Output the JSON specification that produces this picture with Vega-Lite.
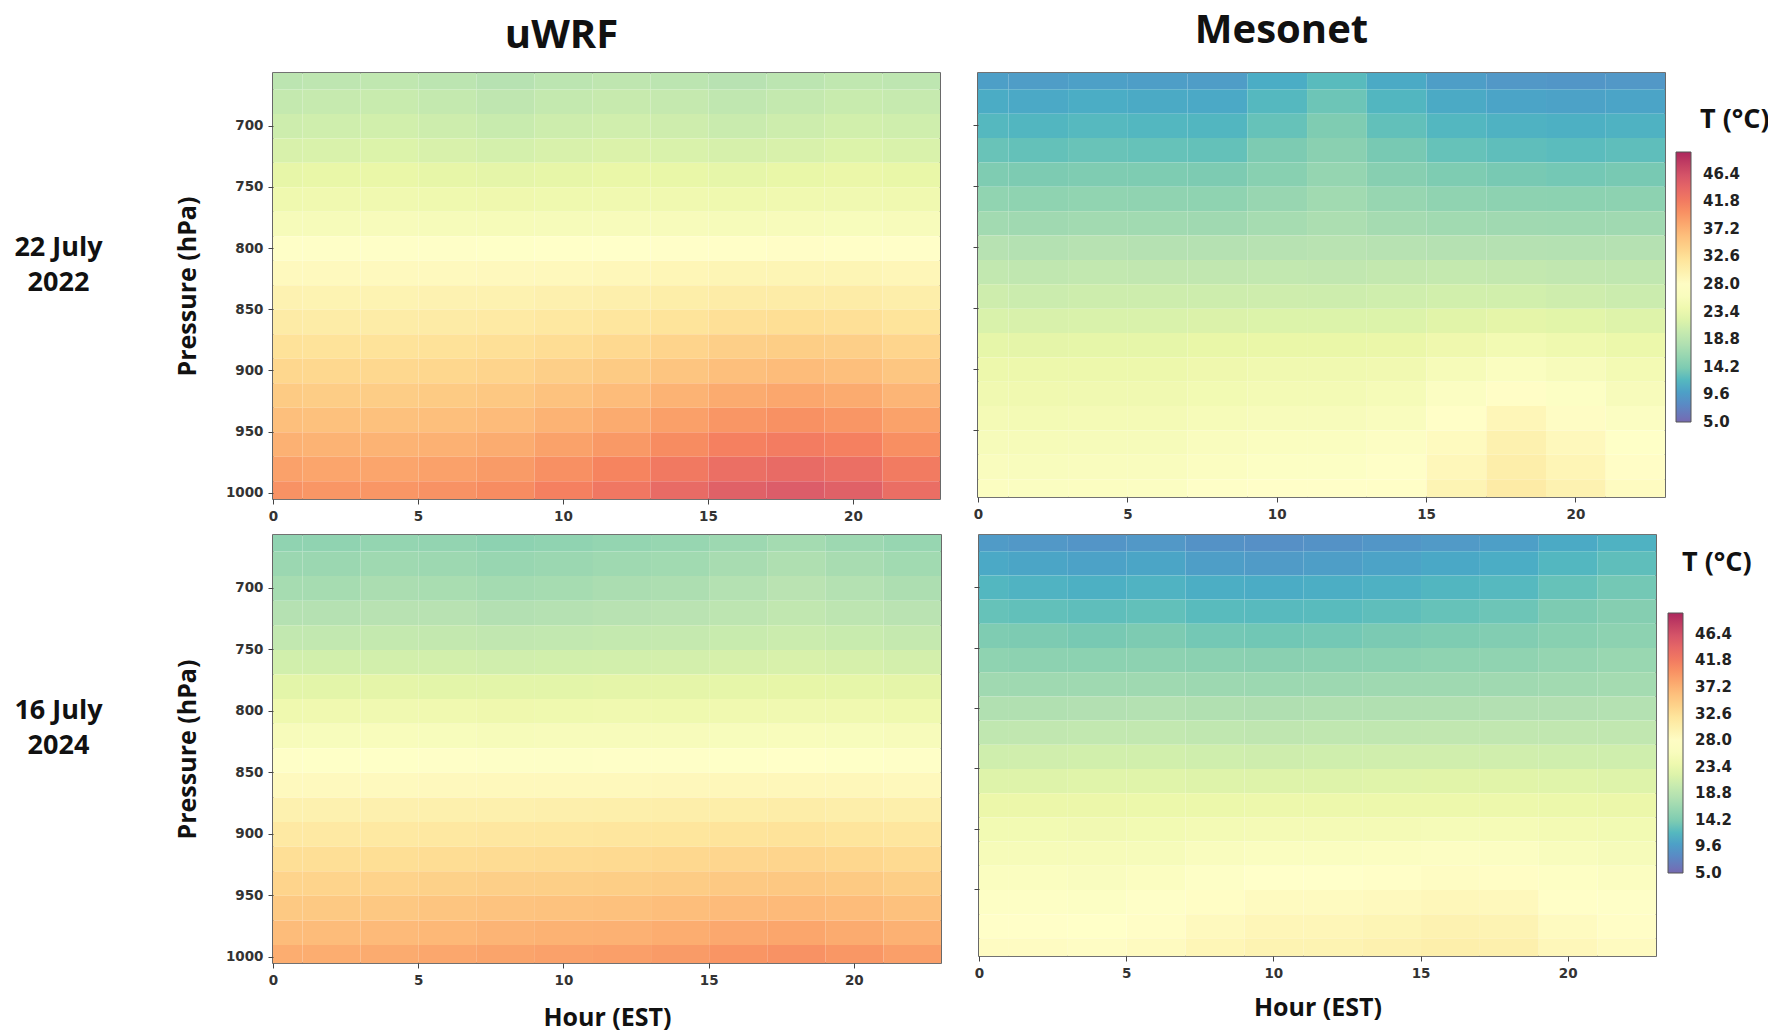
{
"$schema": "https://vega.github.io/schema/vega-lite/v6.json",
"background": "white",
"padding": {"left": 14, "top": 10, "right": 2, "bottom": 0},
"config": {
 "view": {"stroke": "#444", "strokeWidth": 1.6},
 "font": "Open Sans",
 "axis": {"labelFont": "DejaVu Sans", "labelFontWeight": "bold", "labelFontSize": 13.5, "labelColor": "#333", "tickSize": 5, "tickColor": "#444", "domain": false, "grid": false, "titleFont": "Open Sans", "titleFontSize": 25, "titleFontWeight": "bold", "titleColor": "#111", "labelFlush": false, "labelOverlap": false, "labelPadding": 5},
 "title": {"font": "Open Sans", "fontWeight": "bold", "color": "#111"},
 "legend": {"labelFont": "DejaVu Sans", "labelFontWeight": "bold", "labelFontSize": 15, "labelColor": "#222", "titleFont": "Open Sans", "titleFontWeight": "bold", "titleFontSize": 27, "titleColor": "#111"}
},
"datasets": {
"a": [
{"h":0,"p":660,"t":19.0},{"h":2,"p":660,"t":19.2},{"h":4,"p":660,"t":19.4},{"h":6,"p":660,"t":19.0},{"h":8,"p":660,"t":18.4},{"h":10,"p":660,"t":19.0},{"h":12,"p":660,"t":19.3},{"h":14,"p":660,"t":19.0},{"h":16,"p":660,"t":18.5},{"h":18,"p":660,"t":19.0},{"h":20,"p":660,"t":19.4},{"h":22,"p":660,"t":19.2},
{"h":0,"p":680,"t":19.8},{"h":2,"p":680,"t":20.0},{"h":4,"p":680,"t":20.2},{"h":6,"p":680,"t":19.8},{"h":8,"p":680,"t":19.3},{"h":10,"p":680,"t":19.8},{"h":12,"p":680,"t":20.1},{"h":14,"p":680,"t":19.9},{"h":16,"p":680,"t":19.4},{"h":18,"p":680,"t":19.8},{"h":20,"p":680,"t":20.2},{"h":22,"p":680,"t":20.0},
{"h":0,"p":700,"t":20.6},{"h":2,"p":700,"t":20.8},{"h":4,"p":700,"t":21.0},{"h":6,"p":700,"t":20.6},{"h":8,"p":700,"t":20.2},{"h":10,"p":700,"t":20.6},{"h":12,"p":700,"t":20.9},{"h":14,"p":700,"t":20.7},{"h":16,"p":700,"t":20.3},{"h":18,"p":700,"t":20.6},{"h":20,"p":700,"t":21.0},{"h":22,"p":700,"t":20.8},
{"h":0,"p":720,"t":21.6},{"h":2,"p":720,"t":21.7},{"h":4,"p":720,"t":21.9},{"h":6,"p":720,"t":21.6},{"h":8,"p":720,"t":21.3},{"h":10,"p":720,"t":21.6},{"h":12,"p":720,"t":21.8},{"h":14,"p":720,"t":21.7},{"h":16,"p":720,"t":21.4},{"h":18,"p":720,"t":21.6},{"h":20,"p":720,"t":21.9},{"h":22,"p":720,"t":21.7},
{"h":0,"p":740,"t":22.8},{"h":2,"p":740,"t":22.9},{"h":4,"p":740,"t":23.0},{"h":6,"p":740,"t":22.8},{"h":8,"p":740,"t":22.6},{"h":10,"p":740,"t":22.8},{"h":12,"p":740,"t":23.0},{"h":14,"p":740,"t":22.9},{"h":16,"p":740,"t":22.7},{"h":18,"p":740,"t":22.9},{"h":20,"p":740,"t":23.1},{"h":22,"p":740,"t":22.9},
{"h":0,"p":760,"t":24.0},{"h":2,"p":760,"t":24.1},{"h":4,"p":760,"t":24.1},{"h":6,"p":760,"t":24.0},{"h":8,"p":760,"t":23.9},{"h":10,"p":760,"t":24.0},{"h":12,"p":760,"t":24.1},{"h":14,"p":760,"t":24.1},{"h":16,"p":760,"t":24.0},{"h":18,"p":760,"t":24.1},{"h":20,"p":760,"t":24.2},{"h":22,"p":760,"t":24.1},
{"h":0,"p":780,"t":25.5},{"h":2,"p":780,"t":25.5},{"h":4,"p":780,"t":25.6},{"h":6,"p":780,"t":25.5},{"h":8,"p":780,"t":25.4},{"h":10,"p":780,"t":25.5},{"h":12,"p":780,"t":25.6},{"h":14,"p":780,"t":25.6},{"h":16,"p":780,"t":25.5},{"h":18,"p":780,"t":25.6},{"h":20,"p":780,"t":25.7},{"h":22,"p":780,"t":25.6},
{"h":0,"p":800,"t":27.2},{"h":2,"p":800,"t":27.2},{"h":4,"p":800,"t":27.2},{"h":6,"p":800,"t":27.2},{"h":8,"p":800,"t":27.3},{"h":10,"p":800,"t":27.4},{"h":12,"p":800,"t":27.5},{"h":14,"p":800,"t":27.6},{"h":16,"p":800,"t":27.7},{"h":18,"p":800,"t":27.8},{"h":20,"p":800,"t":27.7},{"h":22,"p":800,"t":27.6},
{"h":0,"p":820,"t":28.6},{"h":2,"p":820,"t":28.6},{"h":4,"p":820,"t":28.6},{"h":6,"p":820,"t":28.6},{"h":8,"p":820,"t":28.7},{"h":10,"p":820,"t":28.8},{"h":12,"p":820,"t":29.0},{"h":14,"p":820,"t":29.2},{"h":16,"p":820,"t":29.4},{"h":18,"p":820,"t":29.4},{"h":20,"p":820,"t":29.4},{"h":22,"p":820,"t":29.1},
{"h":0,"p":840,"t":29.8},{"h":2,"p":840,"t":29.7},{"h":4,"p":840,"t":29.7},{"h":6,"p":840,"t":29.8},{"h":8,"p":840,"t":29.9},{"h":10,"p":840,"t":30.1},{"h":12,"p":840,"t":30.3},{"h":14,"p":840,"t":30.6},{"h":16,"p":840,"t":30.8},{"h":18,"p":840,"t":30.9},{"h":20,"p":840,"t":30.8},{"h":22,"p":840,"t":30.5},
{"h":0,"p":860,"t":31.0},{"h":2,"p":860,"t":30.9},{"h":4,"p":860,"t":30.9},{"h":6,"p":860,"t":31.0},{"h":8,"p":860,"t":31.2},{"h":10,"p":860,"t":31.5},{"h":12,"p":860,"t":31.8},{"h":14,"p":860,"t":32.1},{"h":16,"p":860,"t":32.5},{"h":18,"p":860,"t":32.7},{"h":20,"p":860,"t":32.5},{"h":22,"p":860,"t":32.1},
{"h":0,"p":880,"t":32.3},{"h":2,"p":880,"t":32.2},{"h":4,"p":880,"t":32.2},{"h":6,"p":880,"t":32.3},{"h":8,"p":880,"t":32.5},{"h":10,"p":880,"t":32.9},{"h":12,"p":880,"t":33.3},{"h":14,"p":880,"t":33.8},{"h":16,"p":880,"t":34.3},{"h":18,"p":880,"t":34.5},{"h":20,"p":880,"t":34.3},{"h":22,"p":880,"t":33.7},
{"h":0,"p":900,"t":33.5},{"h":2,"p":900,"t":33.4},{"h":4,"p":900,"t":33.4},{"h":6,"p":900,"t":33.5},{"h":8,"p":900,"t":33.8},{"h":10,"p":900,"t":34.3},{"h":12,"p":900,"t":34.8},{"h":14,"p":900,"t":35.4},{"h":16,"p":900,"t":36.0},{"h":18,"p":900,"t":36.3},{"h":20,"p":900,"t":36.0},{"h":22,"p":900,"t":35.3},
{"h":0,"p":920,"t":34.8},{"h":2,"p":920,"t":34.6},{"h":4,"p":920,"t":34.6},{"h":6,"p":920,"t":34.8},{"h":8,"p":920,"t":35.1},{"h":10,"p":920,"t":35.7},{"h":12,"p":920,"t":36.3},{"h":14,"p":920,"t":37.1},{"h":16,"p":920,"t":37.8},{"h":18,"p":920,"t":38.1},{"h":20,"p":920,"t":37.8},{"h":22,"p":920,"t":36.9},
{"h":0,"p":940,"t":36.0},{"h":2,"p":940,"t":35.8},{"h":4,"p":940,"t":35.8},{"h":6,"p":940,"t":36.0},{"h":8,"p":940,"t":36.4},{"h":10,"p":940,"t":37.1},{"h":12,"p":940,"t":37.8},{"h":14,"p":940,"t":38.7},{"h":16,"p":940,"t":39.5},{"h":18,"p":940,"t":39.9},{"h":20,"p":940,"t":39.5},{"h":22,"p":940,"t":38.5},
{"h":0,"p":960,"t":37.3},{"h":2,"p":960,"t":37.1},{"h":4,"p":960,"t":37.1},{"h":6,"p":960,"t":37.3},{"h":8,"p":960,"t":37.7},{"h":10,"p":960,"t":38.5},{"h":12,"p":960,"t":39.3},{"h":14,"p":960,"t":40.3},{"h":16,"p":960,"t":41.3},{"h":18,"p":960,"t":41.7},{"h":20,"p":960,"t":41.3},{"h":22,"p":960,"t":40.1},
{"h":0,"p":980,"t":38.6},{"h":2,"p":980,"t":38.3},{"h":4,"p":980,"t":38.3},{"h":6,"p":980,"t":38.6},{"h":8,"p":980,"t":39.1},{"h":10,"p":980,"t":40.0},{"h":12,"p":980,"t":40.9},{"h":14,"p":980,"t":42.0},{"h":16,"p":980,"t":43.1},{"h":18,"p":980,"t":43.6},{"h":20,"p":980,"t":43.1},{"h":22,"p":980,"t":41.8},
{"h":0,"p":1000,"t":39.8},{"h":2,"p":1000,"t":39.5},{"h":4,"p":1000,"t":39.5},{"h":6,"p":1000,"t":39.8},{"h":8,"p":1000,"t":40.3},{"h":10,"p":1000,"t":41.3},{"h":12,"p":1000,"t":42.3},{"h":14,"p":1000,"t":43.6},{"h":16,"p":1000,"t":44.8},{"h":18,"p":1000,"t":45.3},{"h":20,"p":1000,"t":44.8},{"h":22,"p":1000,"t":43.3}
],
"b": [
{"h":0,"p":660,"t":9.9},{"h":2,"p":660,"t":9.7},{"h":4,"p":660,"t":10.0},{"h":6,"p":660,"t":9.8},{"h":8,"p":660,"t":9.7},{"h":10,"p":660,"t":11.0},{"h":12,"p":660,"t":12.3},{"h":14,"p":660,"t":10.8},{"h":16,"p":660,"t":9.8},{"h":18,"p":660,"t":9.3},{"h":20,"p":660,"t":9.1},{"h":22,"p":660,"t":9.3},
{"h":0,"p":680,"t":10.9},{"h":2,"p":680,"t":10.7},{"h":4,"p":680,"t":11.0},{"h":6,"p":680,"t":10.8},{"h":8,"p":680,"t":10.7},{"h":10,"p":680,"t":12.0},{"h":12,"p":680,"t":13.3},{"h":14,"p":680,"t":11.8},{"h":16,"p":680,"t":10.8},{"h":18,"p":680,"t":10.3},{"h":20,"p":680,"t":10.1},{"h":22,"p":680,"t":10.3},
{"h":0,"p":700,"t":12.0},{"h":2,"p":700,"t":11.8},{"h":4,"p":700,"t":12.1},{"h":6,"p":700,"t":11.9},{"h":8,"p":700,"t":11.8},{"h":10,"p":700,"t":13.0},{"h":12,"p":700,"t":14.2},{"h":14,"p":700,"t":12.8},{"h":16,"p":700,"t":11.9},{"h":18,"p":700,"t":11.5},{"h":20,"p":700,"t":11.3},{"h":22,"p":700,"t":11.5},
{"h":0,"p":720,"t":13.1},{"h":2,"p":720,"t":12.9},{"h":4,"p":720,"t":13.1},{"h":6,"p":720,"t":13.0},{"h":8,"p":720,"t":12.9},{"h":10,"p":720,"t":14.0},{"h":12,"p":720,"t":15.0},{"h":14,"p":720,"t":13.8},{"h":16,"p":720,"t":13.0},{"h":18,"p":720,"t":12.6},{"h":20,"p":720,"t":12.4},{"h":22,"p":720,"t":12.6},
{"h":0,"p":740,"t":14.2},{"h":2,"p":740,"t":14.0},{"h":4,"p":740,"t":14.2},{"h":6,"p":740,"t":14.1},{"h":8,"p":740,"t":14.0},{"h":10,"p":740,"t":14.9},{"h":12,"p":740,"t":15.9},{"h":14,"p":740,"t":14.8},{"h":16,"p":740,"t":14.1},{"h":18,"p":740,"t":13.8},{"h":20,"p":740,"t":13.6},{"h":22,"p":740,"t":13.8},
{"h":0,"p":760,"t":15.6},{"h":2,"p":760,"t":15.4},{"h":4,"p":760,"t":15.6},{"h":6,"p":760,"t":15.5},{"h":8,"p":760,"t":15.4},{"h":10,"p":760,"t":16.1},{"h":12,"p":760,"t":16.8},{"h":14,"p":760,"t":16.0},{"h":16,"p":760,"t":15.5},{"h":18,"p":760,"t":15.3},{"h":20,"p":760,"t":15.2},{"h":22,"p":760,"t":15.3},
{"h":0,"p":780,"t":16.9},{"h":2,"p":780,"t":16.7},{"h":4,"p":780,"t":16.9},{"h":6,"p":780,"t":16.8},{"h":8,"p":780,"t":16.7},{"h":10,"p":780,"t":17.2},{"h":12,"p":780,"t":17.6},{"h":14,"p":780,"t":17.1},{"h":16,"p":780,"t":16.8},{"h":18,"p":780,"t":16.7},{"h":20,"p":780,"t":16.6},{"h":22,"p":780,"t":16.7},
{"h":0,"p":800,"t":18.4},{"h":2,"p":800,"t":18.2},{"h":4,"p":800,"t":18.4},{"h":6,"p":800,"t":18.3},{"h":8,"p":800,"t":18.3},{"h":10,"p":800,"t":18.4},{"h":12,"p":800,"t":18.6},{"h":14,"p":800,"t":18.4},{"h":16,"p":800,"t":18.3},{"h":18,"p":800,"t":18.3},{"h":20,"p":800,"t":18.2},{"h":22,"p":800,"t":18.3},
{"h":0,"p":820,"t":19.6},{"h":2,"p":820,"t":19.4},{"h":4,"p":820,"t":19.6},{"h":6,"p":820,"t":19.5},{"h":8,"p":820,"t":19.5},{"h":10,"p":820,"t":19.6},{"h":12,"p":820,"t":19.5},{"h":14,"p":820,"t":19.7},{"h":16,"p":820,"t":19.8},{"h":18,"p":820,"t":19.7},{"h":20,"p":820,"t":19.5},{"h":22,"p":820,"t":19.4},
{"h":0,"p":840,"t":20.7},{"h":2,"p":840,"t":20.5},{"h":4,"p":840,"t":20.6},{"h":6,"p":840,"t":20.6},{"h":8,"p":840,"t":20.6},{"h":10,"p":840,"t":20.7},{"h":12,"p":840,"t":20.6},{"h":14,"p":840,"t":20.8},{"h":16,"p":840,"t":21.0},{"h":18,"p":840,"t":21.0},{"h":20,"p":840,"t":20.7},{"h":22,"p":840,"t":20.5},
{"h":0,"p":860,"t":21.7},{"h":2,"p":860,"t":21.6},{"h":4,"p":860,"t":21.7},{"h":6,"p":860,"t":21.7},{"h":8,"p":860,"t":21.8},{"h":10,"p":860,"t":21.9},{"h":12,"p":860,"t":21.9},{"h":14,"p":860,"t":21.9},{"h":16,"p":860,"t":22.3},{"h":18,"p":860,"t":22.6},{"h":20,"p":860,"t":22.4},{"h":22,"p":860,"t":22.1},
{"h":0,"p":880,"t":22.7},{"h":2,"p":880,"t":22.6},{"h":4,"p":880,"t":22.7},{"h":6,"p":880,"t":22.7},{"h":8,"p":880,"t":22.9},{"h":10,"p":880,"t":23.0},{"h":12,"p":880,"t":23.0},{"h":14,"p":880,"t":23.2},{"h":16,"p":880,"t":23.9},{"h":18,"p":880,"t":24.5},{"h":20,"p":880,"t":24.0},{"h":22,"p":880,"t":23.4},
{"h":0,"p":900,"t":23.6},{"h":2,"p":900,"t":23.5},{"h":4,"p":900,"t":23.6},{"h":6,"p":900,"t":23.6},{"h":8,"p":900,"t":23.9},{"h":10,"p":900,"t":24.1},{"h":12,"p":900,"t":24.1},{"h":14,"p":900,"t":24.3},{"h":16,"p":900,"t":25.4},{"h":18,"p":900,"t":26.3},{"h":20,"p":900,"t":25.6},{"h":22,"p":900,"t":24.7},
{"h":0,"p":920,"t":24.2},{"h":2,"p":920,"t":24.1},{"h":4,"p":920,"t":24.2},{"h":6,"p":920,"t":24.2},{"h":8,"p":920,"t":24.6},{"h":10,"p":920,"t":24.8},{"h":12,"p":920,"t":24.8},{"h":14,"p":920,"t":25.2},{"h":16,"p":920,"t":26.6},{"h":18,"p":920,"t":27.8},{"h":20,"p":920,"t":26.8},{"h":22,"p":920,"t":25.6},
{"h":0,"p":940,"t":24.9},{"h":2,"p":940,"t":24.8},{"h":4,"p":940,"t":24.9},{"h":6,"p":940,"t":24.9},{"h":8,"p":940,"t":25.3},{"h":10,"p":940,"t":25.6},{"h":12,"p":940,"t":25.6},{"h":14,"p":940,"t":26.0},{"h":16,"p":940,"t":27.7},{"h":18,"p":940,"t":29.1},{"h":20,"p":940,"t":28.0},{"h":22,"p":940,"t":26.6},
{"h":0,"p":960,"t":25.5},{"h":2,"p":960,"t":25.4},{"h":4,"p":960,"t":25.5},{"h":6,"p":960,"t":25.5},{"h":8,"p":960,"t":26.0},{"h":10,"p":960,"t":26.3},{"h":12,"p":960,"t":26.3},{"h":14,"p":960,"t":26.7},{"h":16,"p":960,"t":28.5},{"h":18,"p":960,"t":30.0},{"h":20,"p":960,"t":28.8},{"h":22,"p":960,"t":27.3},
{"h":0,"p":980,"t":26.0},{"h":2,"p":980,"t":25.9},{"h":4,"p":980,"t":26.0},{"h":6,"p":980,"t":26.0},{"h":8,"p":980,"t":26.5},{"h":10,"p":980,"t":26.8},{"h":12,"p":980,"t":26.8},{"h":14,"p":980,"t":27.2},{"h":16,"p":980,"t":29.0},{"h":18,"p":980,"t":30.5},{"h":20,"p":980,"t":29.3},{"h":22,"p":980,"t":27.8},
{"h":0,"p":1000,"t":26.5},{"h":2,"p":1000,"t":26.4},{"h":4,"p":1000,"t":26.5},{"h":6,"p":1000,"t":26.6},{"h":8,"p":1000,"t":27.2},{"h":10,"p":1000,"t":27.6},{"h":12,"p":1000,"t":27.6},{"h":14,"p":1000,"t":27.7},{"h":16,"p":1000,"t":29.5},{"h":18,"p":1000,"t":31.0},{"h":20,"p":1000,"t":29.8},{"h":22,"p":1000,"t":28.3}
],
"c": [
{"h":0,"p":660,"t":15.5},{"h":2,"p":660,"t":15.5},{"h":4,"p":660,"t":15.8},{"h":6,"p":660,"t":15.7},{"h":8,"p":660,"t":15.3},{"h":10,"p":660,"t":15.5},{"h":12,"p":660,"t":15.8},{"h":14,"p":660,"t":16.0},{"h":16,"p":660,"t":16.5},{"h":18,"p":660,"t":17.0},{"h":20,"p":660,"t":16.5},{"h":22,"p":660,"t":16.0},
{"h":0,"p":680,"t":16.3},{"h":2,"p":680,"t":16.3},{"h":4,"p":680,"t":16.6},{"h":6,"p":680,"t":16.5},{"h":8,"p":680,"t":16.1},{"h":10,"p":680,"t":16.3},{"h":12,"p":680,"t":16.6},{"h":14,"p":680,"t":16.8},{"h":16,"p":680,"t":17.3},{"h":18,"p":680,"t":17.8},{"h":20,"p":680,"t":17.3},{"h":22,"p":680,"t":16.8},
{"h":0,"p":700,"t":17.2},{"h":2,"p":700,"t":17.2},{"h":4,"p":700,"t":17.5},{"h":6,"p":700,"t":17.4},{"h":8,"p":700,"t":17.0},{"h":10,"p":700,"t":17.2},{"h":12,"p":700,"t":17.5},{"h":14,"p":700,"t":17.7},{"h":16,"p":700,"t":18.2},{"h":18,"p":700,"t":18.7},{"h":20,"p":700,"t":18.2},{"h":22,"p":700,"t":17.7},
{"h":0,"p":720,"t":18.3},{"h":2,"p":720,"t":18.3},{"h":4,"p":720,"t":18.5},{"h":6,"p":720,"t":18.5},{"h":8,"p":720,"t":18.1},{"h":10,"p":720,"t":18.3},{"h":12,"p":720,"t":18.5},{"h":14,"p":720,"t":18.7},{"h":16,"p":720,"t":19.1},{"h":18,"p":720,"t":19.5},{"h":20,"p":720,"t":19.1},{"h":22,"p":720,"t":18.7},
{"h":0,"p":740,"t":19.6},{"h":2,"p":740,"t":19.6},{"h":4,"p":740,"t":19.8},{"h":6,"p":740,"t":19.7},{"h":8,"p":740,"t":19.5},{"h":10,"p":740,"t":19.6},{"h":12,"p":740,"t":19.8},{"h":14,"p":740,"t":19.9},{"h":16,"p":740,"t":20.2},{"h":18,"p":740,"t":20.5},{"h":20,"p":740,"t":20.2},{"h":22,"p":740,"t":19.9},
{"h":0,"p":760,"t":21.0},{"h":2,"p":760,"t":21.0},{"h":4,"p":760,"t":21.1},{"h":6,"p":760,"t":21.1},{"h":8,"p":760,"t":20.9},{"h":10,"p":760,"t":21.0},{"h":12,"p":760,"t":21.1},{"h":14,"p":760,"t":21.2},{"h":16,"p":760,"t":21.4},{"h":18,"p":760,"t":21.6},{"h":20,"p":760,"t":21.4},{"h":22,"p":760,"t":21.2},
{"h":0,"p":780,"t":22.5},{"h":2,"p":780,"t":22.5},{"h":4,"p":780,"t":22.6},{"h":6,"p":780,"t":22.5},{"h":8,"p":780,"t":22.5},{"h":10,"p":780,"t":22.5},{"h":12,"p":780,"t":22.6},{"h":14,"p":780,"t":22.6},{"h":16,"p":780,"t":22.7},{"h":18,"p":780,"t":22.8},{"h":20,"p":780,"t":22.7},{"h":22,"p":780,"t":22.6},
{"h":0,"p":800,"t":24.0},{"h":2,"p":800,"t":24.1},{"h":4,"p":800,"t":24.2},{"h":6,"p":800,"t":24.1},{"h":8,"p":800,"t":23.9},{"h":10,"p":800,"t":24.0},{"h":12,"p":800,"t":24.1},{"h":14,"p":800,"t":24.0},{"h":16,"p":800,"t":24.1},{"h":18,"p":800,"t":24.2},{"h":20,"p":800,"t":24.1},{"h":22,"p":800,"t":24.0},
{"h":0,"p":820,"t":25.6},{"h":2,"p":820,"t":25.7},{"h":4,"p":820,"t":25.8},{"h":6,"p":820,"t":25.7},{"h":8,"p":820,"t":25.5},{"h":10,"p":820,"t":25.6},{"h":12,"p":820,"t":25.6},{"h":14,"p":820,"t":25.6},{"h":16,"p":820,"t":25.7},{"h":18,"p":820,"t":25.8},{"h":20,"p":820,"t":25.7},{"h":22,"p":820,"t":25.6},
{"h":0,"p":840,"t":27.2},{"h":2,"p":840,"t":27.3},{"h":4,"p":840,"t":27.3},{"h":6,"p":840,"t":27.2},{"h":8,"p":840,"t":27.1},{"h":10,"p":840,"t":27.1},{"h":12,"p":840,"t":27.2},{"h":14,"p":840,"t":27.2},{"h":16,"p":840,"t":27.3},{"h":18,"p":840,"t":27.4},{"h":20,"p":840,"t":27.3},{"h":22,"p":840,"t":27.2},
{"h":0,"p":860,"t":28.6},{"h":2,"p":860,"t":28.6},{"h":4,"p":860,"t":28.6},{"h":6,"p":860,"t":28.7},{"h":8,"p":860,"t":28.8},{"h":10,"p":860,"t":28.8},{"h":12,"p":860,"t":28.8},{"h":14,"p":860,"t":28.9},{"h":16,"p":860,"t":29.0},{"h":18,"p":860,"t":29.0},{"h":20,"p":860,"t":29.0},{"h":22,"p":860,"t":28.8},
{"h":0,"p":880,"t":30.0},{"h":2,"p":880,"t":30.0},{"h":4,"p":880,"t":30.1},{"h":6,"p":880,"t":30.2},{"h":8,"p":880,"t":30.2},{"h":10,"p":880,"t":30.3},{"h":12,"p":880,"t":30.4},{"h":14,"p":880,"t":30.5},{"h":16,"p":880,"t":30.6},{"h":18,"p":880,"t":30.7},{"h":20,"p":880,"t":30.5},{"h":22,"p":880,"t":30.4},
{"h":0,"p":900,"t":31.3},{"h":2,"p":900,"t":31.3},{"h":4,"p":900,"t":31.4},{"h":6,"p":900,"t":31.5},{"h":8,"p":900,"t":31.6},{"h":10,"p":900,"t":31.7},{"h":12,"p":900,"t":31.8},{"h":14,"p":900,"t":31.9},{"h":16,"p":900,"t":32.1},{"h":18,"p":900,"t":32.2},{"h":20,"p":900,"t":32.0},{"h":22,"p":900,"t":31.8},
{"h":0,"p":920,"t":32.6},{"h":2,"p":920,"t":32.6},{"h":4,"p":920,"t":32.7},{"h":6,"p":920,"t":32.9},{"h":8,"p":920,"t":33.0},{"h":10,"p":920,"t":33.1},{"h":12,"p":920,"t":33.2},{"h":14,"p":920,"t":33.4},{"h":16,"p":920,"t":33.6},{"h":18,"p":920,"t":33.7},{"h":20,"p":920,"t":33.5},{"h":22,"p":920,"t":33.2},
{"h":0,"p":940,"t":33.8},{"h":2,"p":940,"t":33.8},{"h":4,"p":940,"t":33.9},{"h":6,"p":940,"t":34.1},{"h":8,"p":940,"t":34.3},{"h":10,"p":940,"t":34.4},{"h":12,"p":940,"t":34.5},{"h":14,"p":940,"t":34.7},{"h":16,"p":940,"t":35.0},{"h":18,"p":940,"t":35.1},{"h":20,"p":940,"t":34.9},{"h":22,"p":940,"t":34.5},
{"h":0,"p":960,"t":35.0},{"h":2,"p":960,"t":35.0},{"h":4,"p":960,"t":35.1},{"h":6,"p":960,"t":35.4},{"h":8,"p":960,"t":35.6},{"h":10,"p":960,"t":35.7},{"h":12,"p":960,"t":35.8},{"h":14,"p":960,"t":36.1},{"h":16,"p":960,"t":36.4},{"h":18,"p":960,"t":36.5},{"h":20,"p":960,"t":36.3},{"h":22,"p":960,"t":35.8},
{"h":0,"p":980,"t":36.3},{"h":2,"p":980,"t":36.3},{"h":4,"p":980,"t":36.5},{"h":6,"p":980,"t":36.7},{"h":8,"p":980,"t":37.0},{"h":10,"p":980,"t":37.2},{"h":12,"p":980,"t":37.3},{"h":14,"p":980,"t":37.6},{"h":16,"p":980,"t":38.0},{"h":18,"p":980,"t":38.2},{"h":20,"p":980,"t":37.8},{"h":22,"p":980,"t":37.3},
{"h":0,"p":1000,"t":37.6},{"h":2,"p":1000,"t":37.6},{"h":4,"p":1000,"t":37.8},{"h":6,"p":1000,"t":38.1},{"h":8,"p":1000,"t":38.4},{"h":10,"p":1000,"t":38.6},{"h":12,"p":1000,"t":38.8},{"h":14,"p":1000,"t":39.1},{"h":16,"p":1000,"t":39.6},{"h":18,"p":1000,"t":39.8},{"h":20,"p":1000,"t":39.4},{"h":22,"p":1000,"t":38.8}
],
"d": [
{"h":0,"p":660,"t":9.6},{"h":2,"p":660,"t":9.3},{"h":4,"p":660,"t":9.0},{"h":6,"p":660,"t":9.3},{"h":8,"p":660,"t":8.7},{"h":10,"p":660,"t":8.5},{"h":12,"p":660,"t":8.7},{"h":14,"p":660,"t":9.1},{"h":16,"p":660,"t":9.5},{"h":18,"p":660,"t":9.9},{"h":20,"p":660,"t":10.8},{"h":22,"p":660,"t":11.5},
{"h":0,"p":680,"t":10.7},{"h":2,"p":680,"t":10.4},{"h":4,"p":680,"t":10.1},{"h":6,"p":680,"t":10.4},{"h":8,"p":680,"t":9.8},{"h":10,"p":680,"t":9.6},{"h":12,"p":680,"t":9.8},{"h":14,"p":680,"t":10.2},{"h":16,"p":680,"t":10.6},{"h":18,"p":680,"t":11.0},{"h":20,"p":680,"t":11.9},{"h":22,"p":680,"t":12.6},
{"h":0,"p":700,"t":11.9},{"h":2,"p":700,"t":11.6},{"h":4,"p":700,"t":11.3},{"h":6,"p":700,"t":11.6},{"h":8,"p":700,"t":11.1},{"h":10,"p":700,"t":10.9},{"h":12,"p":700,"t":11.1},{"h":14,"p":700,"t":11.4},{"h":16,"p":700,"t":11.8},{"h":18,"p":700,"t":12.1},{"h":20,"p":700,"t":13.0},{"h":22,"p":700,"t":13.6},
{"h":0,"p":720,"t":13.0},{"h":2,"p":720,"t":12.8},{"h":4,"p":720,"t":12.6},{"h":6,"p":720,"t":12.8},{"h":8,"p":720,"t":12.3},{"h":10,"p":720,"t":12.2},{"h":12,"p":720,"t":12.3},{"h":14,"p":720,"t":12.6},{"h":16,"p":720,"t":13.0},{"h":18,"p":720,"t":13.3},{"h":20,"p":720,"t":14.0},{"h":22,"p":720,"t":14.6},
{"h":0,"p":740,"t":14.2},{"h":2,"p":740,"t":14.0},{"h":4,"p":740,"t":13.8},{"h":6,"p":740,"t":14.0},{"h":8,"p":740,"t":13.6},{"h":10,"p":740,"t":13.5},{"h":12,"p":740,"t":13.6},{"h":14,"p":740,"t":13.9},{"h":16,"p":740,"t":14.1},{"h":18,"p":740,"t":14.4},{"h":20,"p":740,"t":14.9},{"h":22,"p":740,"t":15.3},
{"h":0,"p":760,"t":15.4},{"h":2,"p":760,"t":15.3},{"h":4,"p":760,"t":15.2},{"h":6,"p":760,"t":15.3},{"h":8,"p":760,"t":15.1},{"h":10,"p":760,"t":15.0},{"h":12,"p":760,"t":15.1},{"h":14,"p":760,"t":15.2},{"h":16,"p":760,"t":15.4},{"h":18,"p":760,"t":15.5},{"h":20,"p":760,"t":15.9},{"h":22,"p":760,"t":16.2},
{"h":0,"p":780,"t":16.7},{"h":2,"p":780,"t":16.6},{"h":4,"p":780,"t":16.6},{"h":6,"p":780,"t":16.6},{"h":8,"p":780,"t":16.5},{"h":10,"p":780,"t":16.4},{"h":12,"p":780,"t":16.5},{"h":14,"p":780,"t":16.6},{"h":16,"p":780,"t":16.6},{"h":18,"p":780,"t":16.7},{"h":20,"p":780,"t":16.9},{"h":22,"p":780,"t":17.0},
{"h":0,"p":800,"t":18.0},{"h":2,"p":800,"t":18.0},{"h":4,"p":800,"t":18.1},{"h":6,"p":800,"t":18.2},{"h":8,"p":800,"t":18.0},{"h":10,"p":800,"t":17.9},{"h":12,"p":800,"t":18.0},{"h":14,"p":800,"t":18.0},{"h":16,"p":800,"t":18.0},{"h":18,"p":800,"t":18.1},{"h":20,"p":800,"t":18.1},{"h":22,"p":800,"t":18.2},
{"h":0,"p":820,"t":19.4},{"h":2,"p":820,"t":19.5},{"h":4,"p":820,"t":19.6},{"h":6,"p":820,"t":19.6},{"h":8,"p":820,"t":19.4},{"h":10,"p":820,"t":19.3},{"h":12,"p":820,"t":19.4},{"h":14,"p":820,"t":19.4},{"h":16,"p":820,"t":19.5},{"h":18,"p":820,"t":19.5},{"h":20,"p":820,"t":19.5},{"h":22,"p":820,"t":19.5},
{"h":0,"p":840,"t":20.8},{"h":2,"p":840,"t":20.9},{"h":4,"p":840,"t":21.0},{"h":6,"p":840,"t":21.0},{"h":8,"p":840,"t":20.8},{"h":10,"p":840,"t":20.7},{"h":12,"p":840,"t":20.8},{"h":14,"p":840,"t":20.9},{"h":16,"p":840,"t":20.9},{"h":18,"p":840,"t":20.9},{"h":20,"p":840,"t":20.8},{"h":22,"p":840,"t":20.8},
{"h":0,"p":860,"t":22.1},{"h":2,"p":860,"t":22.1},{"h":4,"p":860,"t":22.2},{"h":6,"p":860,"t":22.2},{"h":8,"p":860,"t":22.1},{"h":10,"p":860,"t":22.1},{"h":12,"p":860,"t":22.1},{"h":14,"p":860,"t":22.2},{"h":16,"p":860,"t":22.3},{"h":18,"p":860,"t":22.3},{"h":20,"p":860,"t":22.2},{"h":22,"p":860,"t":22.1},
{"h":0,"p":880,"t":23.3},{"h":2,"p":880,"t":23.3},{"h":4,"p":880,"t":23.3},{"h":6,"p":880,"t":23.4},{"h":8,"p":880,"t":23.4},{"h":10,"p":880,"t":23.5},{"h":12,"p":880,"t":23.5},{"h":14,"p":880,"t":23.5},{"h":16,"p":880,"t":23.6},{"h":18,"p":880,"t":23.6},{"h":20,"p":880,"t":23.4},{"h":22,"p":880,"t":23.3},
{"h":0,"p":900,"t":24.5},{"h":2,"p":900,"t":24.5},{"h":4,"p":900,"t":24.4},{"h":6,"p":900,"t":24.6},{"h":8,"p":900,"t":24.8},{"h":10,"p":900,"t":25.0},{"h":12,"p":900,"t":25.0},{"h":14,"p":900,"t":25.0},{"h":16,"p":900,"t":25.2},{"h":18,"p":900,"t":25.1},{"h":20,"p":900,"t":24.7},{"h":22,"p":900,"t":24.6},
{"h":0,"p":920,"t":25.4},{"h":2,"p":920,"t":25.4},{"h":4,"p":920,"t":25.3},{"h":6,"p":920,"t":25.5},{"h":8,"p":920,"t":26.0},{"h":10,"p":920,"t":26.3},{"h":12,"p":920,"t":26.3},{"h":14,"p":920,"t":26.5},{"h":16,"p":920,"t":26.7},{"h":18,"p":920,"t":26.6},{"h":20,"p":920,"t":25.9},{"h":22,"p":920,"t":25.5},
{"h":0,"p":940,"t":26.3},{"h":2,"p":940,"t":26.3},{"h":4,"p":940,"t":26.1},{"h":6,"p":940,"t":26.5},{"h":8,"p":940,"t":27.1},{"h":10,"p":940,"t":27.5},{"h":12,"p":940,"t":27.5},{"h":14,"p":940,"t":27.7},{"h":16,"p":940,"t":28.1},{"h":18,"p":940,"t":27.9},{"h":20,"p":940,"t":26.9},{"h":22,"p":940,"t":26.5},
{"h":0,"p":960,"t":27.0},{"h":2,"p":960,"t":27.0},{"h":4,"p":960,"t":26.8},{"h":6,"p":960,"t":27.2},{"h":8,"p":960,"t":27.9},{"h":10,"p":960,"t":28.4},{"h":12,"p":960,"t":28.4},{"h":14,"p":960,"t":28.6},{"h":16,"p":960,"t":29.0},{"h":18,"p":960,"t":28.8},{"h":20,"p":960,"t":27.7},{"h":22,"p":960,"t":27.2},
{"h":0,"p":980,"t":27.6},{"h":2,"p":980,"t":27.6},{"h":4,"p":980,"t":27.4},{"h":6,"p":980,"t":27.8},{"h":8,"p":980,"t":28.6},{"h":10,"p":980,"t":29.1},{"h":12,"p":980,"t":29.1},{"h":14,"p":980,"t":29.4},{"h":16,"p":980,"t":29.8},{"h":18,"p":980,"t":29.6},{"h":20,"p":980,"t":28.4},{"h":22,"p":980,"t":27.8},
{"h":0,"p":1000,"t":28.2},{"h":2,"p":1000,"t":28.2},{"h":4,"p":1000,"t":28.0},{"h":6,"p":1000,"t":28.4},{"h":8,"p":1000,"t":29.2},{"h":10,"p":1000,"t":29.7},{"h":12,"p":1000,"t":29.7},{"h":14,"p":1000,"t":30.0},{"h":16,"p":1000,"t":30.4},{"h":18,"p":1000,"t":30.2},{"h":20,"p":1000,"t":29.0},{"h":22,"p":1000,"t":28.4}
]
},
"resolve": {"scale": {"color": "independent"}},
"spacing": 10,
"vconcat": [
 {
  "title": {"text": ["22 July", "2022"], "orient": "left", "angle": 0, "fontSize": 27, "lineHeight": 35, "offset": 28, "align": "center", "baseline": "middle", "anchor": "middle", "dy": -19},
  "spacing": 30,
  "hconcat": [
   {
    "width": 667, "height": 426,
    "title": {"text": "uWRF", "fontSize": 40, "dx": -45, "offset": 17},
    "data": {"name": "a"},
    "mark": {"type": "rect", "clip": true, "binSpacing": 0},
    "encoding": {
     "x": {"field": "h", "type": "quantitative", "bin": {"step": 2, "extent": [-1, 23], "nice": false}, "scale": {"domain": [0, 23], "nice": false, "zero": false}, "axis": {"values": [0, 5, 10, 15, 20], "format": "d", "title": null}},
     "y": {"field": "p", "type": "quantitative", "bin": {"step": 20, "extent": [650, 1010], "nice": false}, "scale": {"domain": [657, 1005], "reverse": true, "nice": false, "zero": false}, "axis": {"values": [700, 750, 800, 850, 900, 950, 1000], "format": "d", "title": "Pressure (hPa)", "titlePadding": 25}},
     "color": {"field": "t", "type": "quantitative", "scale": {"domain": [5, 9.5, 14, 18.5, 23, 27.5, 32, 36.5, 41, 45.5, 50], "range": ["#7669b0", "#519ac7", "#7dcbb2", "#b8e2b2", "#eaf7a8", "#ffffc9", "#fee59c", "#fdba79", "#f6835f", "#db5b69", "#ad275e"]}, "legend": {"type": "gradient", "title": "T (°C)", "values": [5, 9.6, 14.2, 18.8, 23.4, 28, 32.6, 37.2, 41.8, 46.4], "format": ".1f", "gradientLength": 270, "gradientThickness": 15, "offset": -24, "padding": 34, "titlePadding": 18, "gradientStrokeColor": "#555", "gradientStrokeWidth": 1, "labelOffset": 12, "encoding": {"title": {"dx": {"value": 24}}, "labels": {"baseline": {"value": "middle"}}}}}
    }
   },
   {
    "width": 687, "height": 424,
    "title": {"text": "Mesonet", "fontSize": 40, "dx": -40, "offset": 22},
    "data": {"name": "b"},
    "mark": {"type": "rect", "clip": true, "binSpacing": 0},
    "encoding": {
     "x": {"field": "h", "type": "quantitative", "bin": {"step": 2, "extent": [-1, 23], "nice": false}, "scale": {"domain": [0, 23], "nice": false, "zero": false}, "axis": {"values": [0, 5, 10, 15, 20], "format": "d", "title": null}},
     "y": {"field": "p", "type": "quantitative", "bin": {"step": 20, "extent": [650, 1010], "nice": false}, "scale": {"domain": [657, 1005], "reverse": true, "nice": false, "zero": false}, "axis": {"values": [700, 750, 800, 850, 900, 950], "labels": false, "title": null}},
     "color": {"field": "t", "type": "quantitative", "scale": {"domain": [5, 9.5, 14, 18.5, 23, 27.5, 32, 36.5, 41, 45.5, 50], "range": ["#7669b0", "#519ac7", "#7dcbb2", "#b8e2b2", "#eaf7a8", "#ffffc9", "#fee59c", "#fdba79", "#f6835f", "#db5b69", "#ad275e"]}, "legend": {"type": "gradient", "title": "T (°C)", "values": [5, 9.6, 14.2, 18.8, 23.4, 28, 32.6, 37.2, 41.8, 46.4], "format": ".1f", "gradientLength": 270, "gradientThickness": 15, "offset": -24, "padding": 34, "titlePadding": 18, "gradientStrokeColor": "#555", "gradientStrokeWidth": 1, "labelOffset": 12, "encoding": {"title": {"dx": {"value": 24}}, "labels": {"baseline": {"value": "middle"}}}}}
    }
   }
  ]
 },
 {
  "title": {"text": ["16 July", "2024"], "orient": "left", "angle": 0, "fontSize": 27, "lineHeight": 35, "offset": 28, "align": "center", "baseline": "middle", "anchor": "middle", "dy": -72},
  "spacing": 30,
  "hconcat": [
   {
    "width": 668, "height": 428,
    "data": {"name": "c"},
    "mark": {"type": "rect", "clip": true, "binSpacing": 0},
    "encoding": {
     "x": {"field": "h", "type": "quantitative", "bin": {"step": 2, "extent": [-1, 23], "nice": false}, "scale": {"domain": [0, 23], "nice": false, "zero": false}, "axis": {"values": [0, 5, 10, 15, 20], "format": "d", "title": "Hour (EST)", "titlePadding": 19}},
     "y": {"field": "p", "type": "quantitative", "bin": {"step": 20, "extent": [650, 1010], "nice": false}, "scale": {"domain": [657, 1005], "reverse": true, "nice": false, "zero": false}, "axis": {"values": [700, 750, 800, 850, 900, 950, 1000], "format": "d", "title": "Pressure (hPa)", "titlePadding": 25}},
     "color": {"field": "t", "type": "quantitative", "scale": {"domain": [5, 9.5, 14, 18.5, 23, 27.5, 32, 36.5, 41, 45.5, 50], "range": ["#7669b0", "#519ac7", "#7dcbb2", "#b8e2b2", "#eaf7a8", "#ffffc9", "#fee59c", "#fdba79", "#f6835f", "#db5b69", "#ad275e"]}, "legend": {"type": "gradient", "title": "T (°C)", "values": [5, 9.6, 14.2, 18.8, 23.4, 28, 32.6, 37.2, 41.8, 46.4], "format": ".1f", "gradientLength": 260, "gradientThickness": 15, "offset": -4, "padding": 15, "titlePadding": 36, "gradientStrokeColor": "#555", "gradientStrokeWidth": 1, "labelOffset": 12, "encoding": {"title": {"dx": {"value": 14}}, "labels": {"baseline": {"value": "middle"}}}}}
    }
   },
   {
    "width": 677, "height": 421,
    "data": {"name": "d"},
    "mark": {"type": "rect", "clip": true, "binSpacing": 0},
    "encoding": {
     "x": {"field": "h", "type": "quantitative", "bin": {"step": 2, "extent": [-1, 23], "nice": false}, "scale": {"domain": [0, 23], "nice": false, "zero": false}, "axis": {"values": [0, 5, 10, 15, 20], "format": "d", "title": "Hour (EST)", "titlePadding": 16}},
     "y": {"field": "p", "type": "quantitative", "bin": {"step": 20, "extent": [650, 1010], "nice": false}, "scale": {"domain": [657, 1005], "reverse": true, "nice": false, "zero": false}, "axis": {"values": [700, 750, 800, 850, 900, 950], "labels": false, "title": null}},
     "color": {"field": "t", "type": "quantitative", "scale": {"domain": [5, 9.5, 14, 18.5, 23, 27.5, 32, 36.5, 41, 45.5, 50], "range": ["#7669b0", "#519ac7", "#7dcbb2", "#b8e2b2", "#eaf7a8", "#ffffc9", "#fee59c", "#fdba79", "#f6835f", "#db5b69", "#ad275e"]}, "legend": {"type": "gradient", "title": "T (°C)", "values": [5, 9.6, 14.2, 18.8, 23.4, 28, 32.6, 37.2, 41.8, 46.4], "format": ".1f", "gradientLength": 260, "gradientThickness": 15, "offset": -4, "padding": 15, "titlePadding": 36, "gradientStrokeColor": "#555", "gradientStrokeWidth": 1, "labelOffset": 12, "encoding": {"title": {"dx": {"value": 14}}, "labels": {"baseline": {"value": "middle"}}}}}
    }
   }
  ]
 }
]
}
